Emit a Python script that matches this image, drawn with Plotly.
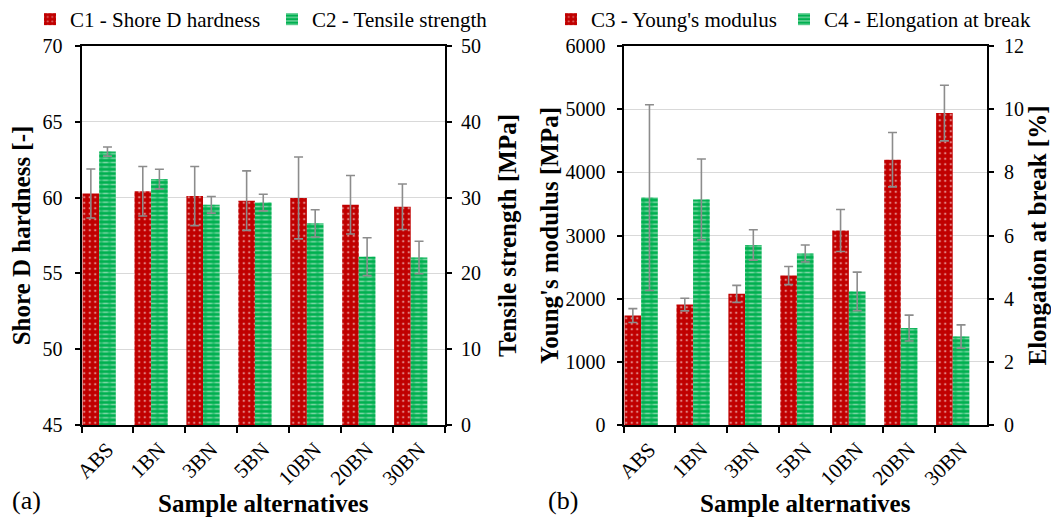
import plotly.graph_objects as go

# ---------------- data ----------------
categories = ["ABS", "1BN", "3BN", "5BN", "10BN", "20BN", "30BN"]

c1_shore = [60.27, 60.42, 60.10, 59.80, 59.98, 59.53, 59.40]
c1_err = [1.62, 1.63, 1.95, 1.96, 2.70, 1.93, 1.50]

c2_tensile = [36.07, 32.45, 29.05, 29.35, 26.60, 22.20, 22.10]
c2_err = [0.60, 1.30, 1.10, 1.10, 1.80, 2.50, 2.15]

c3_young = [1732, 1906, 2076, 2366, 3079, 4200, 4938]
c3_err = [110, 100, 135, 143, 333, 430, 440]

c4_elong = [7.20, 7.14, 5.70, 5.43, 4.23, 3.07, 2.80]
c4_err = [2.94, 1.28, 0.48, 0.27, 0.61, 0.41, 0.37]

names = ["C1 - Shore D hardness", "C2 - Tensile strength",
         "C3 - Young's modulus", "C4 - Elongation at break"]

# ---------------- style ----------------
PAGE_MARGIN = 8          # default body margin of the html page
W, H = 1059 - 2 * PAGE_MARGIN, 525 - 2 * PAGE_MARGIN
RED = "#c00000"
GREEN = "#00b050"
ERR = "#8c8c8c"
FONT = "Liberation Serif"
BW = 0.32
OFF_RED = -0.48
OFF_GREEN = OFF_RED + BW


def fx(p):
    return (p - PAGE_MARGIN) / W


def fy(p):
    return 1 - (p - PAGE_MARGIN) / H


def err(arr):
    return dict(type="data", array=arr, color=ERR, thickness=1.6, width=4.5)


fig = go.Figure()


def add_pair(xa, ya_red, ya_green, red_vals, red_err, green_vals, green_err,
             red_name, green_name, leg_red, leg_green):
    fig.add_trace(go.Bar(
        x=categories, y=red_vals, name=red_name, xaxis=xa, yaxis=ya_red,
        width=BW, offset=OFF_RED, legend=leg_red,
        marker=dict(color=RED, line=dict(width=0),
                    pattern=dict(shape=".", bgcolor=RED, fgcolor="white",
                                 size=5.5, solidity=0.15)),
        error_y=err(red_err)))
    fig.add_trace(go.Bar(
        x=categories, y=green_vals, name=green_name, xaxis=xa, yaxis=ya_green,
        width=BW, offset=OFF_GREEN, legend=leg_green,
        marker=dict(color=GREEN, line=dict(width=0),
                    pattern=dict(shape="-", bgcolor=GREEN, fgcolor="white",
                                 size=4.4, solidity=0.34))))
    # overlay that breaks the white lines into dashes
    fig.add_trace(go.Bar(
        x=categories, y=green_vals, name=green_name, xaxis=xa, yaxis=ya_green,
        width=BW, offset=OFF_GREEN, showlegend=False, hoverinfo="skip",
        marker=dict(color="rgba(0,0,0,0)", line=dict(width=0),
                    pattern=dict(shape="|", bgcolor="rgba(0,0,0,0)",
                                 fgcolor=GREEN, size=8, solidity=0.38)),
        error_y=err(green_err)))


add_pair("x", "y", "y2", c1_shore, c1_err, c2_tensile, c2_err,
         names[0], names[1], "legend", "legend2")
add_pair("x2", "y3", "y4", c3_young, c3_err, c4_elong, c4_err,
         names[2], names[3], "legend3", "legend4")

tickfont = dict(family=FONT, size=20, color="black")
xtickfont = dict(family=FONT, size=21, color="black")
titlefont = dict(family=FONT, size=25, color="black", weight="bold")
legfont = dict(family=FONT, size=21, color="black")

ydom = [fy(425), fy(46)]

common_x = dict(type="category", tickson="boundaries", ticks="outside",
                ticklen=6, tickwidth=1.5, tickcolor="black",
                showline=True, linecolor="black", linewidth=2, mirror=True,
                tickangle=-45, tickfont=xtickfont, showgrid=False,
                automargin=True, ticklabelstandoff=2, fixedrange=True)
common_y = dict(ticks="outside", ticklen=5, tickwidth=1.5, tickcolor="black",
                showline=True, linecolor="black", linewidth=2,
                tickfont=tickfont, automargin=False, zeroline=False,
                fixedrange=True)


def leg(px_left):
    return dict(orientation="h", x=fx(px_left), y=fy(19.5), xanchor="left",
                yanchor="middle", font=legfont, bgcolor="rgba(0,0,0,0)")


fig.update_layout(
    width=W, height=H,
    margin=dict(l=0, r=0, t=0, b=0, autoexpand=False),
    paper_bgcolor="white", plot_bgcolor="white",
    barmode="overlay",
    font=dict(family=FONT, color="black"),
    xaxis=dict(common_x, domain=[fx(81.5), fx(445)], anchor="y",
               title=dict(text="Sample alternatives", font=titlefont,
                          standoff=17)),
    xaxis2=dict(common_x, domain=[fx(623.5), fx(987)], anchor="y3",
                title=dict(text="Sample alternatives", font=titlefont,
                           standoff=17)),
    yaxis=dict(common_y, domain=ydom, anchor="x", range=[45, 70], dtick=5,
               showgrid=True, gridcolor="#d9d9d9", gridwidth=1.2,
               ticklabelstandoff=8,
               title=dict(text="Shore D hardness [-]", font=titlefont,
                          standoff=6)),
    yaxis2=dict(common_y, domain=ydom, anchor="x", overlaying="y",
                side="right", range=[0, 50], dtick=10, showgrid=False,
                ticklabelstandoff=5,
                title=dict(text="Tensile strength [MPa]", font=titlefont,
                           standoff=18)),
    yaxis3=dict(common_y, domain=ydom, anchor="x2", range=[0, 6000],
                dtick=1000, showgrid=True, gridcolor="#d9d9d9",
                gridwidth=1.2, ticklabelstandoff=7,
                title=dict(text="Young's modulus [MPa]", font=titlefont,
                           standoff=0)),
    yaxis4=dict(common_y, domain=ydom, anchor="x2", overlaying="y3",
                side="right", range=[0, 12], dtick=2, showgrid=False,
                ticklabelstandoff=6,
                title=dict(text="Elongation at break [%]", font=titlefont,
                           standoff=12)),
    legend=leg(30),
    legend2=leg(272),
    legend3=leg(551),
    legend4=leg(784),
    annotations=[
        dict(text="(a)", x=fx(10), y=fy(500), xref="paper", yref="paper",
             xanchor="left", yanchor="middle", showarrow=False,
             font=dict(family=FONT, size=26, color="black")),
        dict(text="(b)", x=fx(546), y=fy(500), xref="paper", yref="paper",
             xanchor="left", yanchor="middle", showarrow=False,
             font=dict(family=FONT, size=26, color="black")),
    ],
)

fig.write_html("out.html")
